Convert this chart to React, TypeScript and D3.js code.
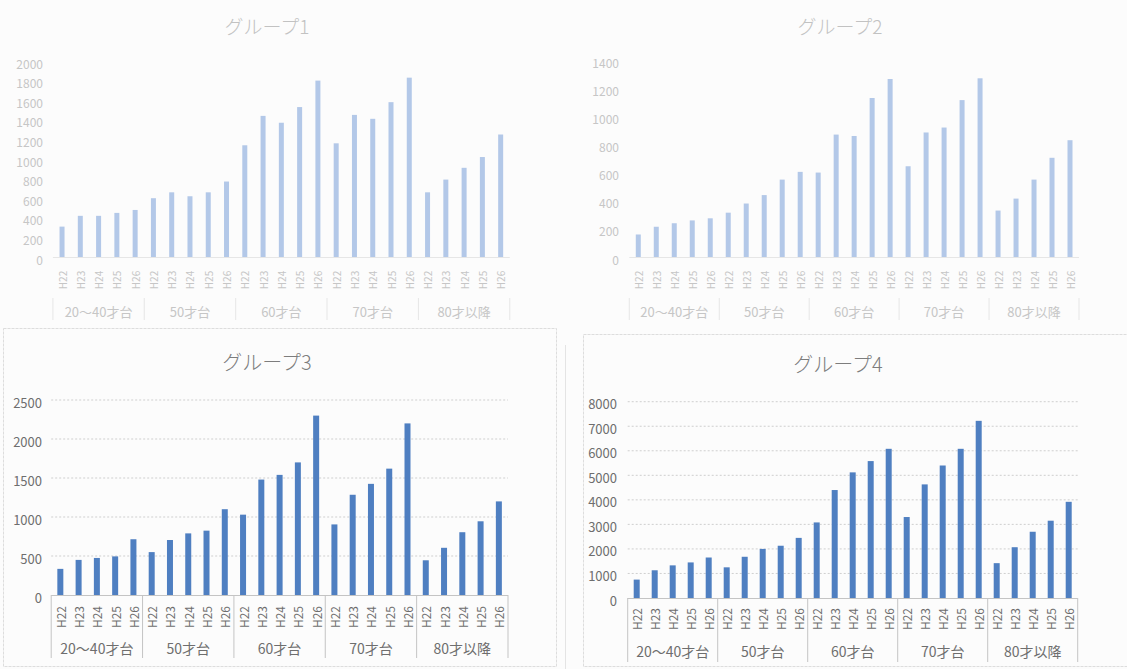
import React from 'react';
import * as d3 from 'd3';

const groupLabels = ['20～40才台', '50才台', '60才台', '70才台', '80才以降'];
const yearLabels = ['H22', 'H23', 'H24', 'H25', 'H26'];

const titles = ['グループ1', 'グループ2', 'グループ3', 'グループ4'];

const group1Values = [310, 420, 420, 450, 480, 600, 660, 620, 660, 770, 1140, 1440, 1370, 1530, 1800, 1160, 1450, 1410, 1580, 1830, 660, 790, 910, 1020, 1250];
const group2Values = [160, 215, 240, 260, 275, 315, 380, 440, 550, 605, 600, 870, 860, 1130, 1265, 645, 885, 920, 1115, 1270, 330, 415, 550, 705, 830];
const group3Values = [335, 450, 475, 495, 715, 550, 705, 790, 825, 1100, 1030, 1480, 1540, 1700, 2300, 905, 1285, 1425, 1620, 2200, 445, 605, 805, 945, 1200];
const group4Values = [750, 1130, 1330, 1450, 1650, 1250, 1680, 2000, 2130, 2450, 3080, 4400, 5120, 5580, 6080, 3300, 4630, 5400, 6080, 7220, 1420, 2070, 2700, 3150, 3920];

const ticks1 = [0, 200, 400, 600, 800, 1000, 1200, 1400, 1600, 1800, 2000];
const ticks2 = [0, 200, 400, 600, 800, 1000, 1200, 1400];
const ticks3 = [0, 500, 1000, 1500, 2000, 2500];
const ticks4 = [0, 1000, 2000, 3000, 4000, 5000, 6000, 7000, 8000];

type Layout = {
  x0: number; x1: number; yBase: number; yTop: number; labelX: number;
  titleX: number; titleY: number; catY: number; grpY: number; sepTop: number; sepBottom: number;
};
type Style = {
  bar: string; text: string; title: string; grid: string; axis: string; barW: number;
  tickSize: number; catSize: number; grpSize: number; titleSize: number; faded: boolean;
};

const FONT = '"Noto Sans CJK JP", "Noto Sans", sans-serif';

function Chart({ title, values, ticks, L, S }: { title: string; values: number[]; ticks: number[]; L: Layout; S: Style }) {
  const n = values.length;
  const step = (L.x1 - L.x0) / n;
  const p = 1 - S.barW / step;
  const x = d3.scaleBand<number>().domain(d3.range(n)).range([L.x0, L.x1]).paddingInner(p).paddingOuter(p / 2);
  const y = d3.scaleLinear().domain([0, ticks[ticks.length - 1]]).range([L.yBase, L.yTop]);
  const grp = d3.scaleBand<number>().domain(d3.range(groupLabels.length)).range([L.x0, L.x1]);
  return (
    <g>
      <text x={L.titleX} y={L.titleY} textAnchor="middle" dominantBaseline="central" fontSize={S.titleSize} fill={S.title} fontFamily={FONT} fontWeight={300}>{title}</text>
      {!S.faded && ticks.slice(1).map((t) => (
        <line key={'g' + t} x1={L.x0} x2={L.x1} y1={y(t)} y2={y(t)} stroke={S.grid} strokeWidth={1} strokeDasharray="2,2" />
      ))}
      {ticks.map((t) => (
        <text key={'t' + t} x={L.labelX} y={y(t) + 2} textAnchor="end" dominantBaseline="central" fontSize={S.tickSize} fill={S.text} fontFamily={FONT}>{t}</text>
      ))}
      {values.map((v, i) => (
        <rect key={'b' + i} x={x(i)} y={y(v)} width={x.bandwidth()} height={L.yBase - y(v)} fill={S.bar} />
      ))}
      <line x1={L.x0} x2={L.x1} y1={L.yBase + 0.5} y2={L.yBase + 0.5} stroke={S.axis} strokeWidth={1} />
      {d3.range(groupLabels.length + 1).map((g) => {
        const gx = L.x0 + g * grp.step();
        return <line key={'s' + g} x1={gx} x2={gx} y1={L.sepTop} y2={L.sepBottom} stroke={S.axis} strokeWidth={1} />;
      })}
      {values.map((v, i) => {
        const cx = (x(i) as number) + x.bandwidth() / 2;
        return (
          <text key={'c' + i} transform={`translate(${cx},${L.catY}) rotate(-90)`} textAnchor="middle" dominantBaseline="central" fontSize={S.catSize} fill={S.text} fontFamily={FONT}>{yearLabels[i % 5]}</text>
        );
      })}
      {groupLabels.map((g, i) => (
        <text key={'l' + i} x={(grp(i) as number) + grp.bandwidth() / 2} y={L.grpY} textAnchor="middle" dominantBaseline="central" fontSize={S.grpSize} fill={S.text} fontFamily={FONT}>{g}</text>
      ))}
    </g>
  );
}

const fadedStyle: Style = {
  bar: '#b3c8e8', text: '#c6c6c6', title: '#c2c2c2', grid: '#eeeeee', axis: '#e6e6e6', barW: 5,
  tickSize: 12, catSize: 10, grpSize: 13, titleSize: 19, faded: true,
};
const darkStyle: Style = {
  bar: '#4f7fc1', text: '#6e6e6e', title: '#7d7d7d', grid: '#cfcfcf', axis: '#c4c4c4', barW: 6,
  tickSize: 13, catSize: 12, grpSize: 14, titleSize: 20, faded: false,
};

const L1: Layout = { x0: 52.9, x1: 509.8, yBase: 257, yTop: 61, labelX: 43, titleX: 267, titleY: 25, catY: 280, grpY: 311, sepTop: 298, sepBottom: 320 };
const L2: Layout = { x0: 629.3, x1: 1079, yBase: 257, yTop: 60, labelX: 619, titleX: 840, titleY: 25, catY: 280, grpY: 311, sepTop: 298, sepBottom: 320 };
const L3: Layout = { x0: 51.2, x1: 508, yBase: 595, yTop: 400, labelX: 42, titleX: 267, titleY: 361, catY: 617, grpY: 648, sepTop: 595, sepBottom: 658 };
const L4: Layout = { x0: 627.7, x1: 1077.7, yBase: 598, yTop: 401.7, labelX: 617, titleX: 838, titleY: 363, catY: 619, grpY: 651, sepTop: 598, sepBottom: 662 };

export default function App() {
  return (
    <div style={{ position: 'absolute', left: 0, top: 0 }}>
      <svg width={1127} height={669} style={{ display: 'block', background: '#fcfcfc' }}>
        <rect x={0} y={0} width={1127} height={669} fill="#fcfcfc" />
        {/* chart frames */}
        <rect x={3.5} y={328.5} width={553} height={338} fill="none" stroke="#dddddd" strokeWidth={1} strokeDasharray="3,1" />
        <rect x={583.5} y={334.5} width={560} height={332} fill="none" stroke="#dddddd" strokeWidth={1} strokeDasharray="3,1" />
        <line x1={565.5} x2={565.5} y1={345} y2={669} stroke="#e4e4e4" strokeWidth={1} />
        <Chart title={titles[0]} values={group1Values} ticks={ticks1} L={L1} S={fadedStyle} />
        <Chart title={titles[1]} values={group2Values} ticks={ticks2} L={L2} S={fadedStyle} />
        <Chart title={titles[2]} values={group3Values} ticks={ticks3} L={L3} S={darkStyle} />
        <Chart title={titles[3]} values={group4Values} ticks={ticks4} L={L4} S={darkStyle} />
      </svg>
    </div>
  );
}
